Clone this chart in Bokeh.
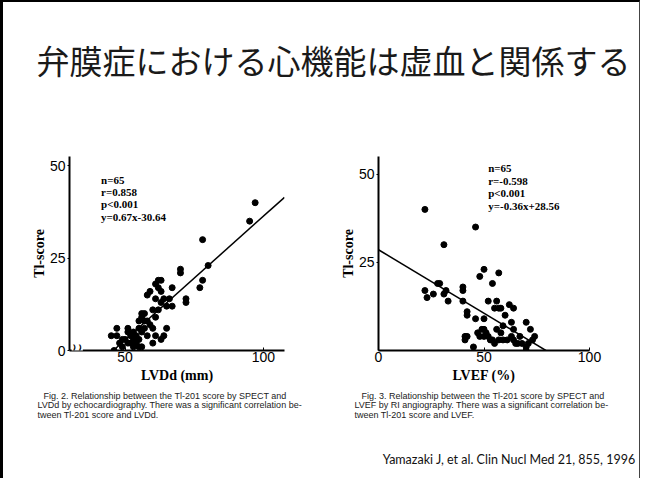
from bokeh.plotting import figure
from bokeh.layouts import column, row
from bokeh.models import FixedTicker, Range1d, Label
from bokeh.embed import file_html
from bokeh.resources import INLINE
from bokeh.core.properties import value

# ---------------- data ----------------
title_text = "弁膜症における心機能は虚血と関係する"

# Fig. 2: LVDd (mm) vs Tl-score
lvdd = [97, 95, 78, 80, 70, 70, 78, 77, 72, 72, 67, 67,
        62, 63, 61, 62, 63, 59, 58, 64, 66, 61, 63, 65,
        56, 57, 56, 57, 55, 58, 61, 60, 62, 59, 57, 55, 60, 65, 64, 63, 61, 60,
        45, 47, 47, 51, 51, 50, 51, 52, 53, 54, 52, 54, 55, 56, 56, 49, 53, 46,
        53, 49, 58, 55, 48]
tl_lvdd = [40, 35, 30, 23, 22, 21, 19, 17, 14, 13, 17, 12,
           19, 19, 18, 17, 16, 16, 15, 14, 14, 14, 13, 12,
           10, 10, 9, 8, 8, 8, 9, 11, 11, 7, 6, 6, 6, 6, 4, 3, 4, 2,
           4, 6, 4, 6, 5, 3, 2, 2, 3, 4, 4, 2, 3, 1, 5, 1, 1, 0,
           5, 3, 4, 1, 2]

# Fig. 3: LVEF (%) vs Tl-score
lvef = [22, 46, 31, 50, 48, 57, 54, 28, 29, 22, 23, 26, 32, 31, 33, 40, 40, 40,
        42, 42, 46, 50, 52, 56, 55, 57, 58, 62, 60, 64, 59, 63, 64, 70, 72, 74,
        49, 50, 51, 52, 53, 54, 55, 56, 57, 59, 41, 41, 42, 45, 64, 65, 66, 70,
        70, 67, 68, 73, 50, 48, 63, 58, 47, 61, 71]
tl_lvef = [40, 35, 30, 23, 21, 22, 19, 19, 19, 17, 15, 16, 17, 16, 14, 18, 17, 14,
           11, 10, 9, 9, 14, 14, 12, 12, 12, 13, 10, 12, 7, 8, 6, 8, 6, 4,
           6, 6, 5, 4, 3, 3, 2, 6, 3, 3, 4, 3, 4, 1, 3, 2, 2, 1,
           0, 4, 2, 3, 4, 4, 4, 5, 5, 3, 2]

fit_lvdd = (0.67, -30.64)
fit_lvef = (-0.36, 28.56)

stats_lvdd = ["n=65", "r=0.858", "p<0.001", "y=0.67x-30.64"]
stats_lvef = ["n=65", "r=-0.598", "p<0.001", "y=-0.36x+28.56"]

xticks_lvdd = [50, 100]
yticks_lvdd = [0, 25, 50]
xticks_lvef = [0, 50, 100]
yticks_lvef = [25, 50]

caption_lvdd = ["Fig. 2.  Relationship between the Tl-201 score by SPECT and",
                "LVDd by echocardiography. There was a significant correlation be-",
                "tween Tl-201 score and LVDd."]
caption_lvef = ["Fig. 3.  Relationship between the Tl-201 score by SPECT and",
                "LVEF by RI angiography. There was a significant correlation be-",
                "tween Tl-201 score and LVEF."]
citation = "Yamazaki J, et al. Clin Nucl Med 21, 855, 1996"

W = 632
SERIF = "Liberation Serif"
SANS = "Liberation Sans"


def blank(width, height):
    f = figure(width=width, height=height, x_range=Range1d(0, width),
               y_range=Range1d(height, 0), output_backend="svg",
               toolbar_location=None, min_border=0)
    f.axis.visible = False
    f.grid.visible = False
    f.outline_line_color = None
    return f


def style_axes(p, xt, yt, xlabel):
    p.grid.visible = False
    p.outline_line_color = None
    p.xaxis.ticker = FixedTicker(ticks=xt)
    p.yaxis.ticker = FixedTicker(ticks=yt)
    p.xaxis.axis_label = xlabel
    p.yaxis.axis_label = "Tl-score"
    for ax in (p.xaxis, p.yaxis):
        ax.axis_line_width = 2
        ax.axis_line_color = "black"
        ax.minor_tick_line_color = None
        ax.major_tick_line_color = "black"
        ax.major_tick_line_width = 1
        ax.major_label_text_font = SANS
        ax.major_label_text_font_size = "14px"
        ax.major_label_text_color = "black"
        ax.major_label_text_line_height = 1.0
        ax.axis_label_text_font = SERIF
        ax.axis_label_text_font_style = "bold"
        ax.axis_label_text_font_size = "14px"
        ax.axis_label_text_color = "black"
        ax.axis_label_text_line_height = 1.0
    p.xaxis.major_tick_in = 3
    p.xaxis.major_tick_out = 0
    p.xaxis.major_label_standoff = 1
    p.xaxis.axis_label_standoff = 3
    p.yaxis.major_tick_in = 0
    p.yaxis.major_tick_out = 2
    p.yaxis.major_label_standoff = 2
    p.yaxis.axis_label_standoff = 0


def stats(p, lines, x, ys):
    for t, y in zip(lines, ys):
        p.add_layout(Label(x=x, y=y, text=t, text_font=SERIF, text_font_style="bold",
                           text_font_size="11px", text_color="black",
                           text_baseline="middle"))


# ---------------- title ----------------
top = blank(W, 140)
top.text(x=[326], y=[53], text=[title_text], text_font=value("Noto Sans CJK JP"),
         text_font_size="33px", text_align="center", text_baseline="middle",
         text_color="#1a1a1a")

# ---------------- Fig. 2 ----------------
x0_lvdd, x1_lvdd = 29.9, 107.6
p1 = figure(width=318, height=240, x_range=Range1d(x0_lvdd, x1_lvdd),
            y_range=Range1d(0, 52.5), output_backend="svg", toolbar_location=None,
            min_border_left=62, min_border_right=41, min_border_top=5,
            min_border_bottom=36)
style_axes(p1, xticks_lvdd, yticks_lvdd, "LVDd (mm)")
root1 = -fit_lvdd[1] / fit_lvdd[0]
p1.line([root1, x1_lvdd], [fit_lvdd[0] * root1 + fit_lvdd[1], fit_lvdd[0] * x1_lvdd + fit_lvdd[1]],
        line_color="black", line_width=1.5)
p1.scatter(lvdd, tl_lvdd, size=6, color="black")
stats(p1, stats_lvdd, 41.3, [46.2, 43.0, 39.6, 36.1])
p1.add_layout(Label(x=x0_lvdd + 2.8, y=0.3, text="\u2240\u2240", text_font="DejaVu Sans",
                    text_font_size="15px", text_color="black", text_align="center",
                    text_baseline="middle", background_fill_color="white"))

# ---------------- Fig. 3 ----------------
p2 = figure(width=314, height=240, x_range=Range1d(0, 100), y_range=Range1d(0, 55),
            output_backend="svg", toolbar_location=None,
            min_border_left=53, min_border_right=50, min_border_top=10,
            min_border_bottom=36)
style_axes(p2, xticks_lvef, yticks_lvef, "LVEF (%)")
root2 = -fit_lvef[1] / fit_lvef[0]
p2.line([0, root2], [fit_lvef[1], fit_lvef[0] * root2 + fit_lvef[1]],
        line_color="black", line_width=1.5)
p2.scatter(lvef, tl_lvef, size=6, color="black")
stats(p2, stats_lvef, 52.0, [51.6, 48.1, 44.6, 41.1])

# ---------------- captions ----------------
bot = blank(W, 92)
cap_y = [9, 18.5, 28]
bot.text(x=[36, 30, 30], y=cap_y, text=caption_lvdd, text_font=value(SANS),
         text_font_size="9px", text_baseline="middle", text_color="#222")
bot.text(x=[354, 347, 347], y=cap_y, text=caption_lvef, text_font=value(SANS),
         text_font_size="9px", text_baseline="middle", text_color="#222")
bot.text(x=[628], y=[73], text=[citation], text_font=value("Lato"),
         text_font_size="12.5px", text_align="right", text_baseline="middle",
         text_color="#111")

layout = column(top, row(p1, p2), bot,
                styles={"border-left": "3px solid black", "border-top": "2px solid black",
                        "border-right": "1px solid #444", "background-color": "white",
                        "padding-left": "4px", "padding-top": "4px"})

open("out.html", "w").write(file_html(layout, INLINE))
